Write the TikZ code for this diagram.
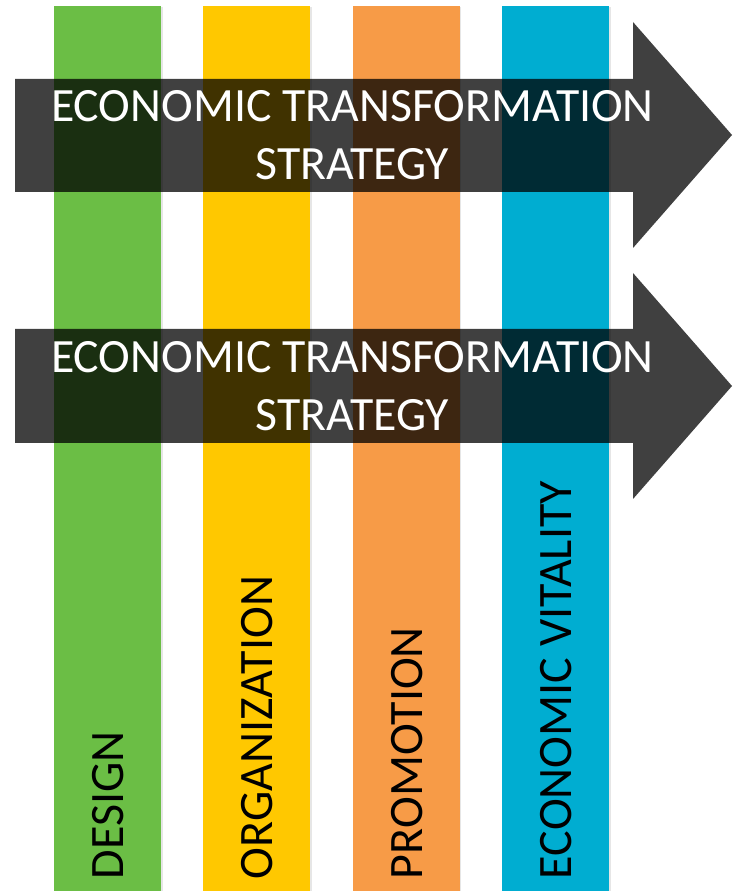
\documentclass[tikz,border=0pt]{standalone}
\usepackage{fontspec}
\setmainfont{Carlito}
\usepackage{tikz}
\usetikzlibrary{positioning,shadows}

\definecolor{pillargreen}{HTML}{6BBE45}
\definecolor{pillaryellow}{HTML}{FFC800}
\definecolor{pillarorange}{HTML}{F79B47}
\definecolor{pillarblue}{HTML}{00ADD1}

\begin{document}
\begin{tikzpicture}[x=1pt,y=1pt]
\useasboundingbox (0,0) rectangle (732,891);
%% Draw the four pillars with their labels
   \begin{scope}[node distance=42pt,
		pillar/.style={rectangle,inner sep=0,minimum width=107pt,minimum height=885pt,
			drop shadow={shadow xshift=1.5pt,shadow yshift=-1pt,opacity=0.2}},
		pillarlbl/.style={rotate=90,anchor=base west,inner sep=0,
			font=\fontsize{48}{58}\selectfont}]
   \node [pillar,fill=pillargreen]  (design)   at (107.5,442.5) {};
   \node [pillar,fill=pillaryellow] (organize) [right=of design]   {};
   \node [pillar,fill=pillarorange] (promote)  [right=of organize] {};
   \node [pillar,fill=pillarblue]   (vitality) [right=of promote]  {};
   \node [pillarlbl] (designlbl)   at ([xshift=16pt,yshift=12pt]design.south)   {DESIGN};
   \node [pillarlbl] (organizelbl) at ([xshift=16pt,yshift=12pt]organize.south) {ORGANIZATION};
   \node [pillarlbl] (promotelbl)  at ([xshift=16pt,yshift=12pt]promote.south)  {PROMOTION};
   \node [pillarlbl] (vitalitylbl) at ([xshift=16pt,yshift=12pt]vitality.south) {ECONOMIC VITALITY};
   \end{scope}

%% Draw the two strategy arrows across the pillars
   \begin{scope}[
		band/.style={fill=black,fill opacity=0.75,draw=none},
		bandtxt/.style={text=white,align=center,inner sep=0,
			font=\fontsize{47.8}{58}\selectfont}]
   \fill [band] (15,812) -- (633,812) -- (633,869) -- (732,756) -- (633,643)
		-- (633,699) -- (15,699) -- cycle;
   \node [bandtxt] (strat1) at (352.5,755.5) {ECONOMIC TRANSFORMATION\\STRATEGY};
   \fill [band] (15,562) -- (633,562) -- (633,618) -- (732,505) -- (633,392)
		-- (633,448) -- (15,448) -- cycle;
   \node [bandtxt] (strat2) at (352.5,505) {ECONOMIC TRANSFORMATION\\STRATEGY};
   \end{scope}
\end{tikzpicture}
\end{document}
